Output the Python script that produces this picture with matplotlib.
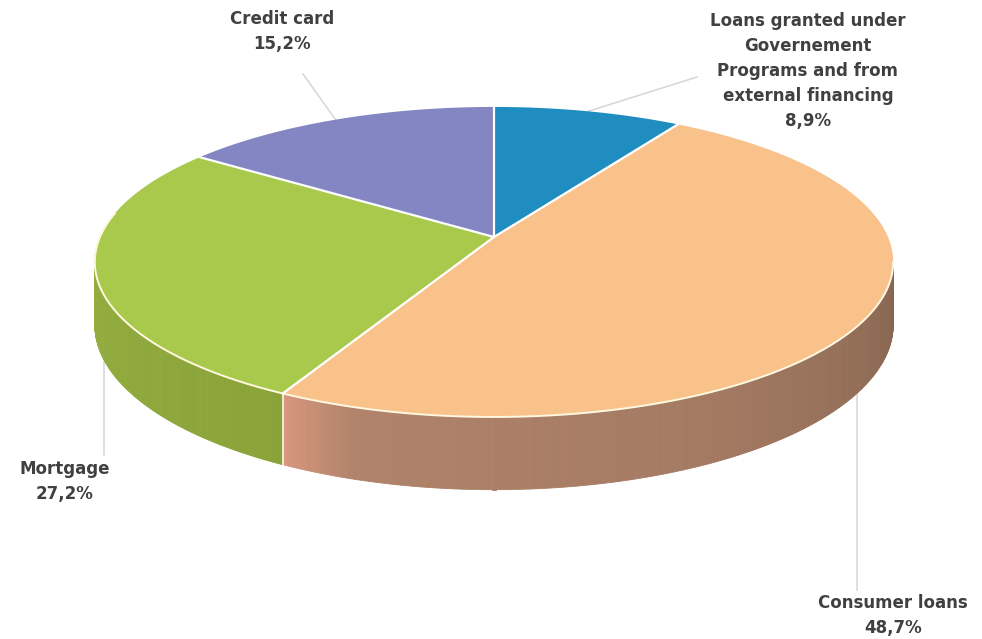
"""Loan portfolio breakdown -- 3D-style pie drawn from flat patches."""
import numpy as np
import matplotlib
matplotlib.use('Agg')
import matplotlib.pyplot as plt
from matplotlib.collections import PolyCollection
from matplotlib.colors import to_rgb

labels = ['Loans granted under\nGovernement\nPrograms and from\nexternal financing',
          'Consumer loans', 'Mortgage', 'Credit card']
shares = [8.9, 48.7, 27.2, 15.2]
top_colors = ['#1f8dbf', '#f9c28b', '#a9c94d', '#8486c4']
# side wall shading stops (fraction along the visible wall, colour)
side_stops = [None,
              [(0.0, '#d9977f'), (0.09, '#b0836a'), (0.5, '#a47a62'), (1.0, '#866550')],
              [(0.0, '#98b243'), (1.0, '#8aa339')],
              None]
# label block centres (pixels) and leader end points
label_pos = [(808, 71), (893, 615), (65, 481), (282, 31)]
leader_end = [(697, 77), (857, 590), (104, 455), (303, 74)]

W, H = 982, 639
CX, CY = 494, 237          # projected pie centre
A, B, K = 394, 151, 0.161  # half axes and perspective factor
DEPTH = 61
TXT = '#404040'


def proj(theta, drop=0.0):
    s = 1.0 / (1.0 + K * np.sin(theta))
    x = CX + A * np.cos(theta) * s
    y = CY - B * np.sin(theta) * s + drop * s
    return x, y


def shade(stops, f):
    pos = [p for p, _ in stops]
    rgb = np.array([to_rgb(c) for _, c in stops])
    return tuple(np.interp(f, pos, rgb[:, i]) for i in range(3))


fig = plt.figure(figsize=(W / 100, H / 100), dpi=100)
ax = fig.add_axes([0, 0, 1, 1])
ax.set_xlim(0, W)
ax.set_ylim(H, 0)
ax.axis('off')

# slice angles, clockwise from 12 o'clock
edges = np.pi / 2 - np.concatenate([[0], np.cumsum(shares)]) / sum(shares) * 2 * np.pi
vis_hi = -np.arcsin(K)
vis_lo = -np.pi - np.arcsin(K)

# side walls
for i in range(len(shares)):
    t0, t1 = edges[i], edges[i + 1]
    lo, hi = max(t1, vis_lo), min(t0, vis_hi)
    if lo >= hi or side_stops[i] is None:
        continue
    th = np.linspace(lo, hi, 240)
    xt, yt = proj(th)
    xb, yb = proj(th, DEPTH)
    quads, cols = [], []
    for j in range(len(th) - 1):
        quads.append([(xt[j], yt[j]), (xt[j + 1], yt[j + 1]),
                      (xb[j + 1], yb[j + 1]), (xb[j], yb[j])])
        f = (th[j] - lo) / (hi - lo)
        cols.append(shade(side_stops[i], f))
    ax.add_collection(PolyCollection(quads, facecolors=cols, edgecolors=cols,
                                     linewidths=0.6, zorder=2))
    # light seam where two walls meet
    if lo == t1:
        x0, y0 = proj(lo)
        x1, y1 = proj(lo, DEPTH)
        ax.plot([x0, x1], [y0, y1], color='#fbf1dc', lw=1.3, zorder=3)

# top face
for i in range(len(shares)):
    th = np.linspace(edges[i], edges[i + 1], 200)
    xs, ys = proj(th)
    poly = np.column_stack([np.r_[CX, xs], np.r_[CY, ys]])
    ax.fill(poly[:, 0], poly[:, 1], color=top_colors[i], lw=0, zorder=4)

# highlight along the front rim of the top face
th = np.linspace(vis_lo, vis_hi, 400)
xs, ys = proj(th)
ax.plot(xs, ys, color='#fff8e0', lw=1.4, zorder=5)

# white separators between slices
for t in edges[:-1]:
    x, y = proj(t)
    ax.plot([CX, x], [CY, y], color='white', lw=1.6, zorder=6,
            solid_capstyle='round')

# leader lines and labels
for i, (lab, v) in enumerate(zip(labels, shares)):
    mid = (edges[i] + edges[i + 1]) / 2
    ex, ey = leader_end[i]
    if vis_lo <= mid <= vis_hi:
        # vertical leader coming out from under the wall
        _, ay_ = proj(mid, DEPTH)
        ax.plot([ex, ex], [ay_, ey], color='#d6d6d6', lw=1.1, zorder=1)
    else:
        ax_, ay_ = proj(mid)
        ax.plot([ax_, ex], [ay_, ey], color='#d6d6d6', lw=1.1, zorder=1)
    pct = f'{v:.1f}%'.replace('.', ',')
    lx, ly = label_pos[i]
    ax.text(lx, ly, f'{lab}\n{pct}', ha='center', va='center',
            fontsize=12, fontweight='bold', color=TXT, linespacing=1.5,
            family='DejaVu Sans', zorder=7)

fig.savefig('out.png', dpi=100, facecolor='white')
